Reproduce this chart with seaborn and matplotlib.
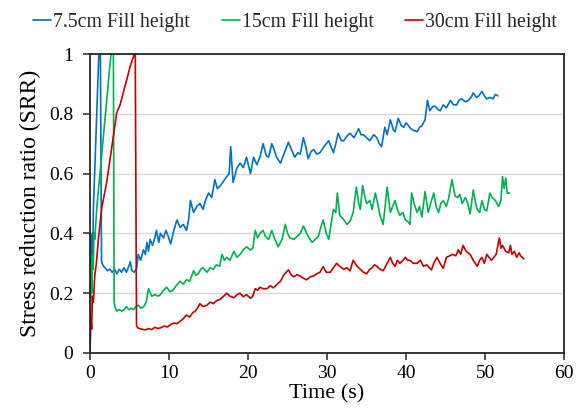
import matplotlib
matplotlib.use("Agg")
import matplotlib.pyplot as plt
import matplotlib.ticker as mticker
import numpy as np
import pandas as pd
import seaborn as sns

# ---- measured stress reduction ratio (SRR) over time ----
blue_time = [0.0, 0.05, 0.1, 0.15, 0.2, 0.28, 0.35, 0.42, 1.18, 1.3,
             1.45, 1.52, 1.7, 1.9, 2.2, 2.5, 2.8, 3.1, 3.4, 3.7,
             4.0, 4.3, 4.6, 4.9, 5.1, 5.3, 5.6, 5.9, 6.1, 6.4,
             6.75, 7.0, 7.2, 7.4, 7.6, 7.9, 8.2, 8.4, 8.7, 8.9,
             9.3, 9.6, 9.9, 10.2, 10.6, 11.0, 11.4, 11.8, 12.2, 12.5,
             12.7, 13.1, 13.5, 13.9, 14.3, 14.6, 15.0, 15.4, 15.8, 16.1,
             16.5, 16.9, 17.3, 17.6, 17.8, 18.1, 18.6, 19.0, 19.4, 19.8,
             20.3, 20.7, 21.1, 21.5, 21.9, 22.3, 22.6, 23.0, 23.3, 23.6,
             24.1, 24.6, 25.1, 25.5, 25.9, 26.3, 26.6, 27.0, 27.3, 27.6,
             28.0, 28.3, 28.7, 29.1, 29.6, 30.2, 30.5, 30.8, 31.1, 31.4,
             31.8, 32.1, 32.5, 32.9, 33.4, 34.0, 34.3, 34.6, 35.0, 35.4,
             35.9, 36.3, 36.6, 36.9, 37.3, 37.6, 38.0, 38.4, 38.6, 39.0,
             39.4, 39.7, 40.0, 40.3, 40.6, 40.9, 41.4, 41.7, 42.0, 42.4,
             42.7, 43.0, 43.4, 43.7, 44.0, 44.3, 44.7, 45.1, 45.6, 46.0,
             46.4, 46.7, 47.0, 47.5, 47.9, 48.2, 48.5, 48.9, 49.2, 49.6,
             49.9, 50.2, 50.6, 51.0, 51.3, 51.6]
blue_srr = [0.21, 0.38, 0.24, 0.39, 0.28, 0.40, 0.33, 0.48, 1.05, 1.05,
            0.31, 0.30, 0.29, 0.285, 0.275, 0.28, 0.27, 0.28, 0.265, 0.28,
            0.27, 0.285, 0.27, 0.29, 0.305, 0.275, 0.27, 0.285, 0.33, 0.31,
            0.345, 0.33, 0.37, 0.34, 0.38, 0.36, 0.385, 0.41, 0.37, 0.40,
            0.385, 0.41, 0.39, 0.365, 0.41, 0.445, 0.42, 0.43, 0.41, 0.45,
            0.51, 0.47, 0.49, 0.50, 0.48, 0.51, 0.535, 0.52, 0.58, 0.55,
            0.56, 0.575, 0.59, 0.60, 0.69, 0.57, 0.62, 0.635, 0.62, 0.655,
            0.60, 0.655, 0.63, 0.655, 0.70, 0.66, 0.655, 0.70, 0.68, 0.655,
            0.635, 0.67, 0.705, 0.68, 0.655, 0.67, 0.665, 0.72, 0.69, 0.65,
            0.675, 0.68, 0.665, 0.67, 0.69, 0.71, 0.69, 0.67, 0.70, 0.735,
            0.71, 0.71, 0.725, 0.735, 0.72, 0.75, 0.73, 0.73, 0.72, 0.71,
            0.73, 0.72, 0.70, 0.69, 0.755, 0.73, 0.78, 0.745, 0.74, 0.785,
            0.76, 0.755, 0.77, 0.76, 0.75, 0.745, 0.74, 0.755, 0.76, 0.78,
            0.845, 0.81, 0.825, 0.825, 0.815, 0.81, 0.83, 0.82, 0.845, 0.83,
            0.83, 0.845, 0.85, 0.84, 0.845, 0.855, 0.87, 0.855, 0.86, 0.875,
            0.86, 0.85, 0.855, 0.85, 0.865, 0.86]

green_time = [0.0, 0.08, 0.15, 0.22, 0.3, 0.4, 0.5, 0.6, 0.85, 2.72,
              2.95, 3.05, 3.2, 3.4, 3.7, 4.0, 4.3, 4.6, 4.9, 5.2,
              5.5, 5.8, 6.1, 6.4, 6.8, 7.1, 7.4, 7.8, 8.2, 8.6,
              8.9, 9.3, 9.7, 10.1, 10.5, 10.9, 11.4, 11.8, 12.2, 12.6,
              13.1, 13.4, 13.7, 14.0, 14.3, 14.8, 15.2, 15.6, 16.0, 16.4,
              16.7, 17.0, 17.3, 17.7, 18.2, 18.6, 19.0, 19.4, 19.8, 20.3,
              20.6, 20.9, 21.2, 21.5, 21.9, 22.2, 22.6, 23.0, 23.4, 23.8,
              24.3, 24.7, 25.0, 25.3, 25.8, 26.2, 26.6, 27.0, 27.5, 28.1,
              28.5, 28.9, 29.2, 29.5, 29.9, 30.2, 30.5, 30.8, 31.1, 31.3,
              31.6, 32.0, 32.5, 32.9, 33.3, 33.7, 34.0, 34.2, 34.5, 34.8,
              35.0, 35.4, 35.7, 36.1, 36.4, 36.7, 37.1, 37.6, 38.0, 38.3,
              38.6, 38.9, 39.2, 39.6, 39.9, 40.2, 40.5, 40.7, 41.0, 41.4,
              41.7, 42.0, 42.4, 42.8, 43.1, 43.5, 43.8, 44.1, 44.4, 44.7,
              45.1, 45.4, 45.8, 46.2, 46.5, 46.8, 47.1, 47.5, 47.8, 48.1,
              48.5, 48.8, 49.0, 49.3, 49.6, 49.9, 50.2, 50.6, 50.9, 51.3,
              51.7, 52.0, 52.2, 52.4, 52.6, 52.8, 53.1]
green_srr = [0.0, 0.15, 0.30, 0.20, 0.33, 0.28, 0.40, 0.38, 0.485, 1.02,
             1.02, 0.17, 0.15, 0.14, 0.145, 0.14, 0.145, 0.155, 0.145, 0.15,
             0.145, 0.155, 0.16, 0.15, 0.155, 0.17, 0.215, 0.19, 0.195, 0.19,
             0.195, 0.21, 0.22, 0.205, 0.21, 0.225, 0.24, 0.23, 0.245, 0.24,
             0.275, 0.26, 0.265, 0.28, 0.285, 0.27, 0.285, 0.28, 0.295, 0.29,
             0.33, 0.31, 0.32, 0.31, 0.34, 0.32, 0.33, 0.345, 0.355, 0.345,
             0.35, 0.41, 0.385, 0.40, 0.41, 0.39, 0.38, 0.41, 0.38, 0.355,
             0.38, 0.43, 0.40, 0.385, 0.38, 0.39, 0.40, 0.425, 0.395, 0.37,
             0.38, 0.39, 0.42, 0.445, 0.40, 0.38, 0.43, 0.48, 0.47, 0.535,
             0.46, 0.45, 0.43, 0.44, 0.47, 0.555, 0.50, 0.48, 0.56, 0.52,
             0.50, 0.51, 0.48, 0.535, 0.50, 0.46, 0.43, 0.555, 0.47, 0.49,
             0.51, 0.48, 0.46, 0.47, 0.445, 0.44, 0.43, 0.535, 0.50, 0.47,
             0.49, 0.455, 0.54, 0.47, 0.50, 0.535, 0.49, 0.47, 0.50, 0.51,
             0.49, 0.52, 0.58, 0.525, 0.52, 0.53, 0.50, 0.52, 0.50, 0.465,
             0.545, 0.50, 0.48, 0.47, 0.51, 0.48, 0.475, 0.535, 0.52, 0.51,
             0.49, 0.51, 0.59, 0.55, 0.585, 0.535, 0.535]

red_time = [0.0, 0.1, 0.2, 0.3, 0.42, 0.6, 0.8, 1.05, 1.48, 2.1,
            2.74, 3.37, 3.8, 4.6, 5.1, 5.6, 5.72, 5.88, 6.1, 6.5,
            7.0, 7.4, 7.8, 8.2, 8.6, 9.0, 9.4, 9.8, 10.2, 10.6,
            11.0, 11.4, 11.8, 12.2, 12.6, 13.0, 13.3, 13.6, 13.9, 14.3,
            14.8, 15.2, 15.6, 16.0, 16.5, 16.9, 17.3, 17.7, 18.2, 18.6,
            19.0, 19.4, 19.8, 20.3, 20.6, 20.9, 21.2, 21.5, 21.9, 22.4,
            22.8, 23.2, 23.7, 24.1, 24.5, 25.1, 25.5, 25.8, 26.2, 26.6,
            27.0, 27.4, 27.9, 28.3, 28.7, 29.1, 29.5, 29.9, 30.4, 30.8,
            31.2, 31.6, 32.1, 32.5, 32.9, 33.3, 33.8, 34.2, 34.6, 35.0,
            35.4, 35.7, 36.0, 36.3, 36.7, 37.1, 37.5, 38.0, 38.3, 38.6,
            38.9, 39.2, 39.6, 39.9, 40.2, 40.5, 40.9, 41.4, 41.8, 42.2,
            42.6, 43.2, 43.5, 43.9, 44.3, 44.7, 45.1, 45.5, 45.9, 46.3,
            46.6, 46.9, 47.2, 47.6, 48.1, 48.5, 49.0, 49.3, 49.6, 49.9,
            50.2, 50.5, 50.8, 51.1, 51.4, 51.8, 52.0, 52.2, 52.6, 53.0,
            53.2, 53.4, 53.7, 54.0, 54.3, 54.5, 54.9]
red_srr = [0.0, 0.12, 0.08, 0.19, 0.17, 0.26, 0.30, 0.38, 0.485, 0.57,
           0.686, 0.803, 0.83, 0.91, 0.96, 1.0, 1.01, 0.09, 0.083, 0.08,
           0.077, 0.082, 0.078, 0.086, 0.082, 0.085, 0.09, 0.087, 0.095, 0.10,
           0.098, 0.106, 0.115, 0.127, 0.12, 0.135, 0.14, 0.15, 0.165, 0.155,
           0.16, 0.17, 0.165, 0.175, 0.18, 0.19, 0.20, 0.19, 0.185, 0.195,
           0.20, 0.188, 0.195, 0.183, 0.19, 0.215, 0.21, 0.22, 0.215, 0.215,
           0.225, 0.218, 0.23, 0.24, 0.26, 0.278, 0.26, 0.255, 0.262, 0.257,
           0.25, 0.245, 0.255, 0.258, 0.265, 0.27, 0.289, 0.27, 0.27, 0.285,
           0.30, 0.29, 0.28, 0.285, 0.275, 0.31, 0.29, 0.28, 0.27, 0.265,
           0.28, 0.285, 0.295, 0.29, 0.28, 0.275, 0.295, 0.32, 0.30, 0.29,
           0.31, 0.30, 0.31, 0.32, 0.31, 0.31, 0.30, 0.30, 0.31, 0.29,
           0.295, 0.278, 0.30, 0.32, 0.30, 0.283, 0.32, 0.325, 0.33, 0.325,
           0.345, 0.33, 0.36, 0.34, 0.33, 0.31, 0.29, 0.31, 0.32, 0.30,
           0.33, 0.32, 0.31, 0.32, 0.33, 0.385, 0.35, 0.36, 0.34, 0.335,
           0.36, 0.33, 0.34, 0.32, 0.335, 0.325, 0.315]

series_labels = ["7.5cm Fill height", "15cm Fill height", "30cm Fill height"]
series_colors = ["#0070C0", "#00B050", "#C00000"]

frames = []
for label, t, v in zip(series_labels,
                       [blue_time, green_time, red_time],
                       [blue_srr, green_srr, red_srr]):
    frames.append(pd.DataFrame({"Time": t, "SRR": v, "Series": label}))
df = pd.concat(frames, ignore_index=True)

sns.set_theme(style="white")
plt.rcParams["font.family"] = ["Liberation Serif", "DejaVu Serif"]

fig = plt.figure(figsize=(5.81, 4.17), dpi=100)
ax = fig.add_axes([0.155, 0.1535, 0.816, 0.717])

sns.lineplot(data=df, x="Time", y="SRR", hue="Series",
             hue_order=series_labels, palette=series_colors,
             estimator=None, sort=False, linewidth=1.2, ax=ax)

ax.set_xlim(0, 60)
ax.set_ylim(0, 1)
ax.set_xticks(np.arange(0, 61, 10))
ax.set_yticks(np.arange(0, 1.01, 0.2))
ax.yaxis.set_major_formatter(mticker.FuncFormatter(lambda v, p: f"{v:g}"))
ax.yaxis.grid(True, color="#d9d9d9", linewidth=1.0)
ax.xaxis.grid(False)
ax.set_axisbelow(True)

for side in ["left", "right", "top", "bottom"]:
    ax.spines[side].set_color("#262626")
    ax.spines[side].set_linewidth(1.3)

ax.tick_params(axis="both", which="major", direction="out", length=5,
               width=1.1, color="#262626", labelsize=14, labelcolor="black",
               left=True, bottom=True)
ax.tick_params(axis="y", pad=7)
ax.tick_params(axis="x", pad=4)

ax.set_xlabel("Time (s)", fontsize=16, color="black", labelpad=1)
ax.set_ylabel("Stress reduction ratio (SRR)", fontsize=17, color="black",
              labelpad=6)

handles, labels = ax.get_legend_handles_labels()
ax.get_legend().remove()
fig.legend(handles, labels, loc="upper center", bbox_to_anchor=(0.508, 1.0),
           ncol=3, frameon=False, fontsize=14.3, handlelength=0.9,
           handletextpad=0.1, columnspacing=1.6, borderaxespad=0.25)

fig.savefig("out.png", dpi=100)
